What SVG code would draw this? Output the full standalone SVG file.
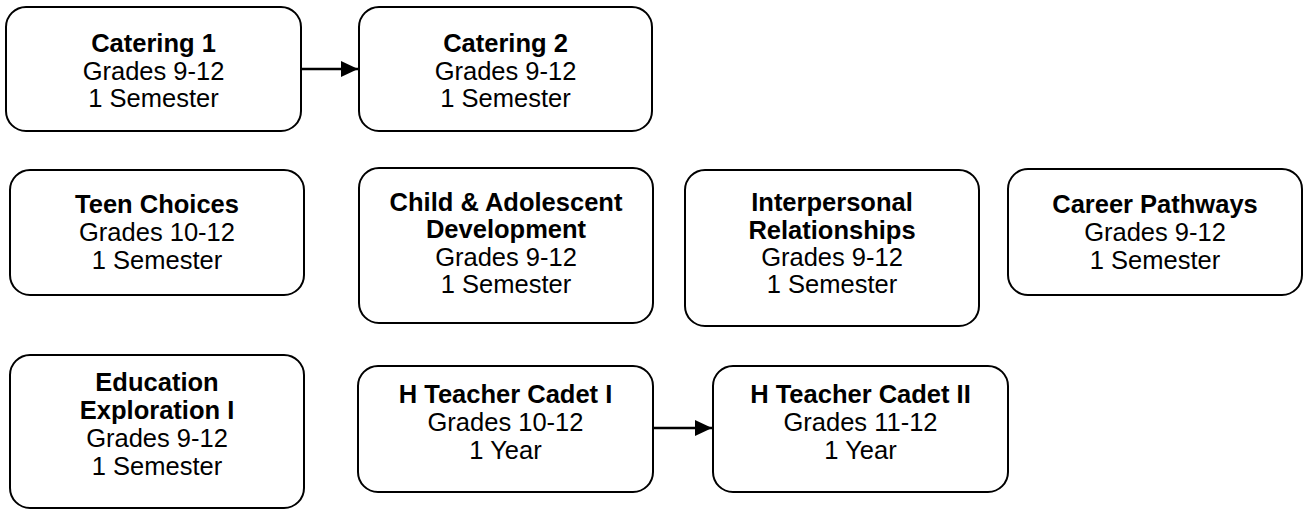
<svg xmlns="http://www.w3.org/2000/svg" width="1304" height="510" viewBox="0 0 1304 510">
<style>
.box{fill:#fff;stroke:#000;stroke-width:2}
.t{font-family:"Liberation Sans",Arial,sans-serif;font-size:25.5px;fill:#000;text-anchor:middle}
.b{font-weight:bold}
.c{stroke:#000;stroke-width:2.5;fill:none}
</style>
<defs>
<marker id="ah" markerUnits="userSpaceOnUse" markerWidth="18" markerHeight="16" refX="17" refY="8" orient="auto">
<path d="M0,0 L17,8 L0,16 Z" fill="#000"/>
</marker>
</defs>
<rect width="1304" height="510" fill="#fff"/>
<g id="connectors">
<line class="c" x1="302" y1="69" x2="358" y2="69" marker-end="url(#ah)"/>
<line class="c" x1="653" y1="428" x2="712" y2="428" marker-end="url(#ah)"/>
</g>
<g id="catering1">
<rect class="box" x="6" y="7" width="295" height="124" rx="20"/>
<text class="t b" x="153.5" y="51.5">Catering 1</text>
<text class="t" x="153.5" y="79.5">Grades 9-12</text>
<text class="t" x="153.5" y="107">1 Semester</text>
</g>
<g id="catering2">
<rect class="box" x="359" y="7" width="293" height="124" rx="20"/>
<text class="t b" x="505.5" y="51.5">Catering 2</text>
<text class="t" x="505.5" y="79.5">Grades 9-12</text>
<text class="t" x="505.5" y="107">1 Semester</text>
</g>
<g id="teenchoices">
<rect class="box" x="10" y="170" width="294" height="125" rx="20"/>
<text class="t b" x="157" y="213">Teen Choices</text>
<text class="t" x="157" y="241">Grades 10-12</text>
<text class="t" x="157" y="269">1 Semester</text>
</g>
<g id="childdev">
<rect class="box" x="359" y="168" width="294" height="155" rx="20"/>
<text class="t b" x="506" y="210.5">Child &amp; Adolescent</text>
<text class="t b" x="506" y="238">Development</text>
<text class="t" x="506" y="265.5">Grades 9-12</text>
<text class="t" x="506" y="293">1 Semester</text>
</g>
<g id="interpersonal">
<rect class="box" x="685" y="170" width="294" height="156" rx="20"/>
<text class="t b" x="832" y="211">Interpersonal</text>
<text class="t b" x="832" y="239">Relationships</text>
<text class="t" x="832" y="266">Grades 9-12</text>
<text class="t" x="832" y="293">1 Semester</text>
</g>
<g id="careerpathways">
<rect class="box" x="1008" y="169" width="294" height="126" rx="20"/>
<text class="t b" x="1155" y="212.5">Career Pathways</text>
<text class="t" x="1155" y="241">Grades 9-12</text>
<text class="t" x="1155" y="269">1 Semester</text>
</g>
<g id="education">
<rect class="box" x="10" y="355" width="294" height="153" rx="20"/>
<text class="t b" x="157" y="391">Education</text>
<text class="t b" x="157" y="419">Exploration I</text>
<text class="t" x="157" y="447">Grades 9-12</text>
<text class="t" x="157" y="475">1 Semester</text>
</g>
<g id="teachercadet1">
<rect class="box" x="358" y="366" width="295" height="126" rx="20"/>
<text class="t b" x="505.5" y="402.5">H Teacher Cadet I</text>
<text class="t" x="505.5" y="430.5">Grades 10-12</text>
<text class="t" x="505.5" y="458.5">1 Year</text>
</g>
<g id="teachercadet2">
<rect class="box" x="713" y="366" width="295" height="126" rx="20"/>
<text class="t b" x="860.5" y="402.5">H Teacher Cadet II</text>
<text class="t" x="860.5" y="430.5">Grades 11-12</text>
<text class="t" x="860.5" y="458.5">1 Year</text>
</g>
</svg>
